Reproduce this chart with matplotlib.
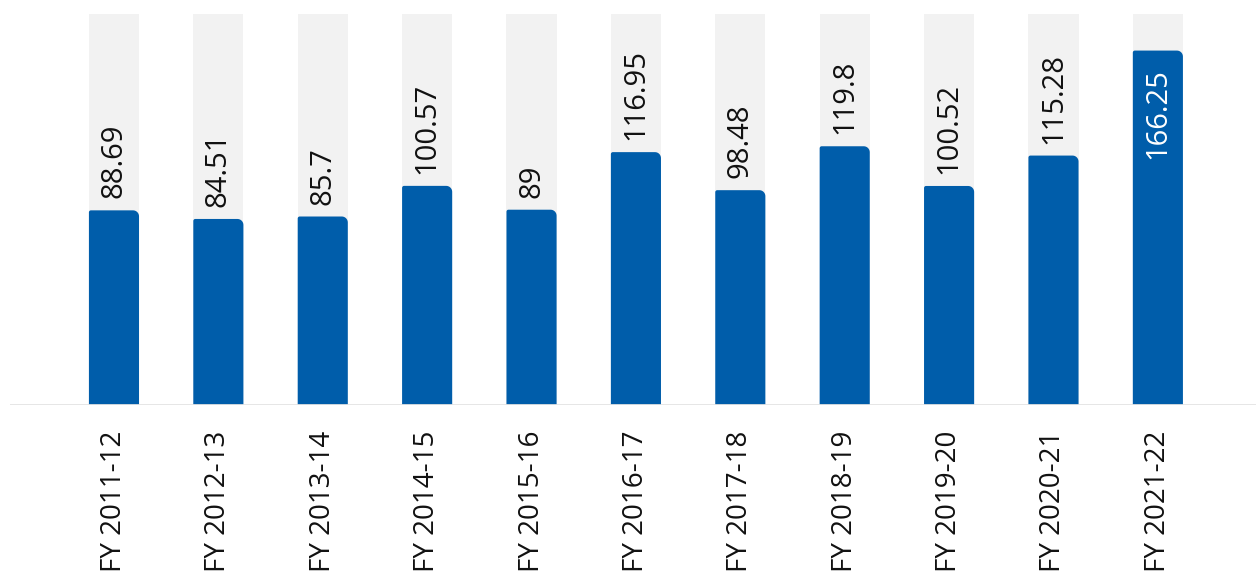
import numpy as np
import matplotlib
matplotlib.use("Agg")
import matplotlib.pyplot as plt
from matplotlib.patches import Polygon

plt.rcParams['font.family'] = ['Open Sans', 'DejaVu Sans']

years = ["FY 2011-12", "FY 2012-13", "FY 2013-14", "FY 2014-15", "FY 2015-16",
         "FY 2016-17", "FY 2017-18", "FY 2018-19", "FY 2019-20", "FY 2020-21",
         "FY 2021-22"]
values = [88.69, 84.51, 85.7, 100.57, 89, 116.95, 98.48, 119.8, 100.52, 115.28, 166.25]
labels = ["88.69", "84.51", "85.7", "100.57", "89", "116.95", "98.48", "119.8",
          "100.52", "115.28", "166.25"]

blue = "#005DAA"
track = "#F2F2F2"
y_lo, y_hi = -5.8, 184
bar_w = 0.48

fig = plt.figure(figsize=(12.56, 5.81), dpi=100)
ax = fig.add_axes([10 / 1256, (581 - 405) / 581, 1 - 10 / 1256, (405 - 14) / 581])
ax.set_xlim(-0.996, 10.94)
ax.set_ylim(y_lo, y_hi)
for s in ax.spines.values():
    s.set_visible(False)
ax.tick_params(left=False, labelleft=False, bottom=False)

# pixels per data unit, for the rounded tops
bb = ax.get_window_extent()
px_x = bb.width / (ax.get_xlim()[1] - ax.get_xlim()[0])
px_y = bb.height / (y_hi - y_lo)


def rounded_bar(x, top, r_left=2.0, r_right=6.0):
    x0, x1 = x - bar_w / 2, x + bar_w / 2
    pts = [(x0, y_lo)]
    t = np.linspace(np.pi, np.pi / 2, 8)
    cx, cy = x0 + r_left / px_x, top - r_left / px_y
    pts += [(cx + np.cos(a) * r_left / px_x, cy + np.sin(a) * r_left / px_y) for a in t]
    t = np.linspace(np.pi / 2, 0, 10)
    cx, cy = x1 - r_right / px_x, top - r_right / px_y
    pts += [(cx + np.cos(a) * r_right / px_x, cy + np.sin(a) * r_right / px_y) for a in t]
    pts.append((x1, y_lo))
    return Polygon(pts, closed=True, facecolor=blue, edgecolor="none", zorder=2)


xs = np.arange(len(values))
ax.bar(xs, y_hi - y_lo, bottom=y_lo, width=bar_w, color=track, zorder=1)
for x, v, lab in zip(xs, values, labels):
    ax.add_patch(rounded_bar(x, v))
    if v > 150:
        ax.text(x, v - 18 / px_y, lab, rotation=90, ha="center", va="top",
                color="white", fontsize=21, zorder=3)
    else:
        ax.text(x, v + 12 / px_y, lab, rotation=90, ha="center", va="bottom",
                color="#111111", fontsize=21, zorder=3)

ax.axhline(y_lo, color="#E3E3E3", lw=2, zorder=4)
ax.set_xticks(xs)
ax.set_xticklabels(years, rotation=90, fontsize=20, color="#111111")
ax.tick_params(axis="x", pad=15)

fig.savefig("out.png", dpi=100)
